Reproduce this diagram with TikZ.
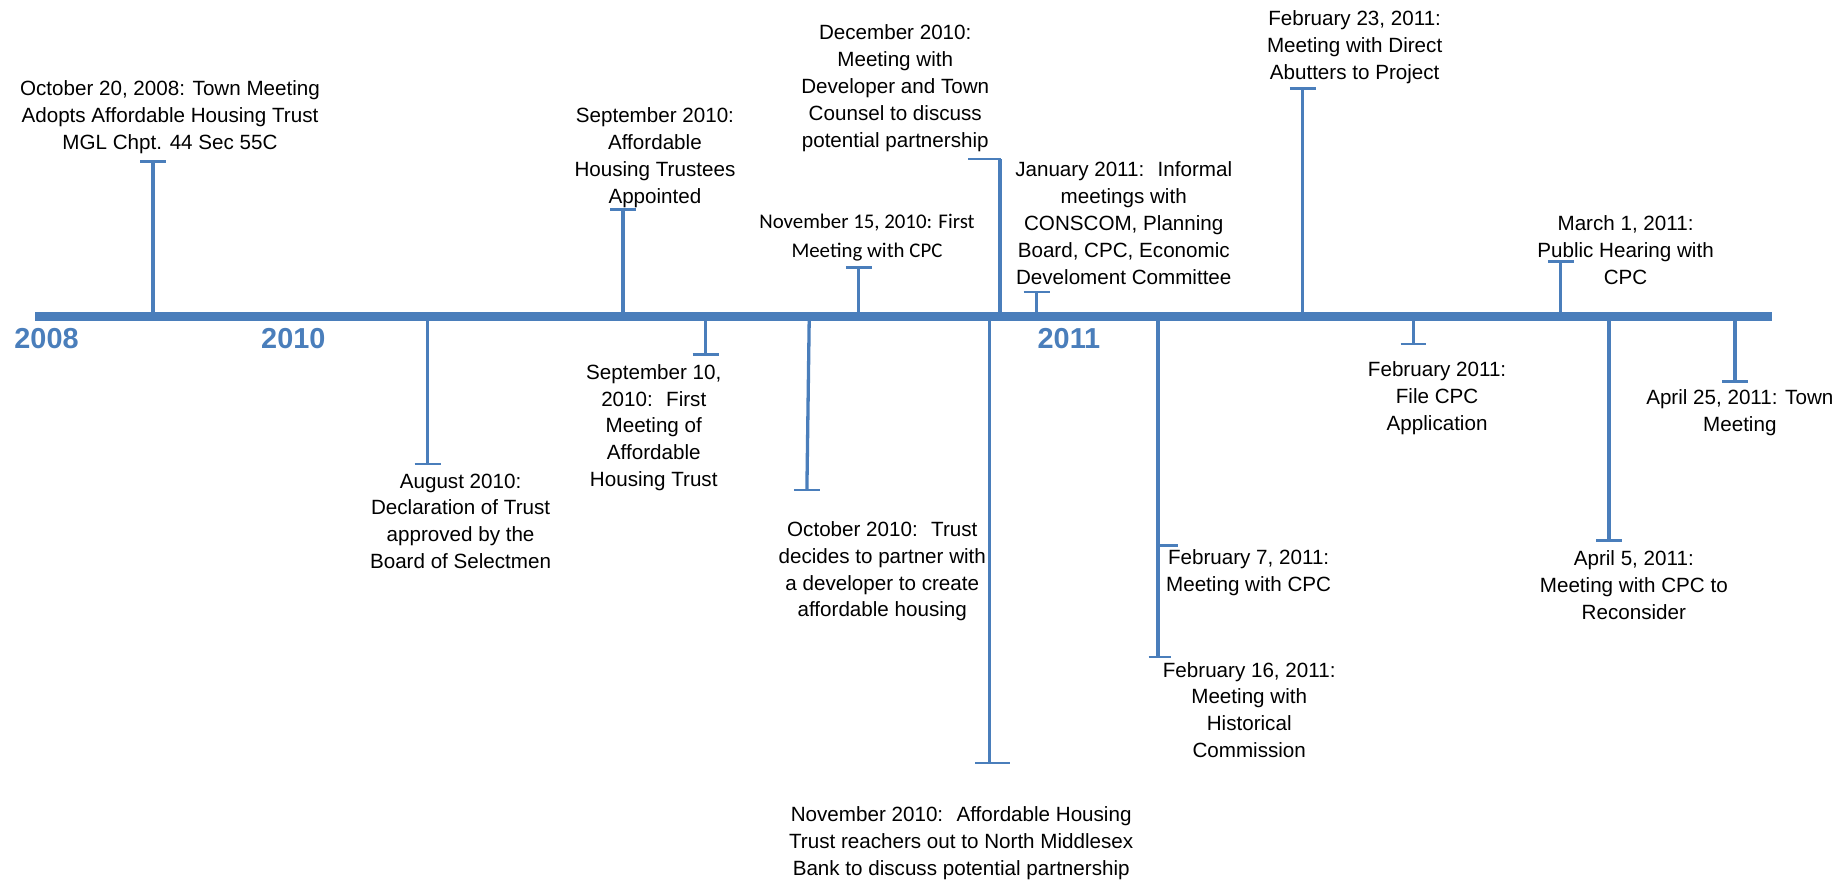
\documentclass[tikz,border=0pt]{standalone}
\usepackage{fontspec}
\newfontfamily\arialc{Liberation Sans}
\newfontfamily\carl{Carlito}
\definecolor{tlblue}{HTML}{4A7EBB}
\begin{document}
\begin{tikzpicture}[x=1pt,y=-1pt,
  lbl/.style={font=\arialc\fontsize{17.5}{22.8}\selectfont, align=center, inner sep=0pt, text=black},
  lblc/.style={font=\carl\fontsize{17.7}{24}\selectfont, align=center, inner sep=0pt, text=black},
  yr/.style={font=\arialc\bfseries\fontsize{24.5}{28}\selectfont, text=tlblue, inner sep=0pt},
  stem/.style={draw=tlblue, line width=2.8pt},
  capl/.style={draw=tlblue, line width=2pt},
  axisline/.style={draw=tlblue, line width=7.7pt}]
\useasboundingbox (0,0) rectangle (1568,749);

% axis
\coordinate (axL) at (30,269);
\coordinate (axR) at (1504,269);
\draw[axisline] (axL) -- (axR);

% years
\node[yr] (y2008) at (39.5,287) {2008};
\node[yr] (y2010) at (249,287) {2010};
\node[yr] (y2011) at (907.5,287) {2011};

% stems
\coordinate (b1) at (130,269);  \coordinate (t1) at (130,137);
\coordinate (b2) at (363,269);  \coordinate (t2) at (363,394);
\coordinate (b3) at (529,269);  \coordinate (t3) at (529,178);
\coordinate (b4) at (599,269);  \coordinate (t4) at (599,301);
\coordinate (b5) at (687,269);  \coordinate (t5) at (685,416);
\coordinate (b6) at (729,269);  \coordinate (t6) at (729,227);
\coordinate (b7) at (849,269);  \coordinate (t7) at (849,135);
\coordinate (b8) at (840,269);  \coordinate (t8) at (840,648);
\coordinate (b9) at (880,269);  \coordinate (t9) at (880,248);
\coordinate (b10) at (983,269); \coordinate (t10) at (983,558);
\coordinate (m10) at (983,463);
\coordinate (b11) at (1106,269); \coordinate (t11) at (1106,75);
\coordinate (b12) at (1200,269); \coordinate (t12) at (1200,292);
\coordinate (b13) at (1325,269); \coordinate (t13) at (1325,222);
\coordinate (b14) at (1366,269); \coordinate (t14) at (1366,459);
\coordinate (b15) at (1473,269); \coordinate (t15) at (1473,324);

\foreach \i in {1,2,3,4,5,6,7,8,9,10,11,12,13,14,15} {
  \draw[stem] (b\i) -- (t\i);
}
\foreach \i in {1,2,3,4,5,6,9,11,12,13,14,15} {
  \draw[capl] ([xshift=-11pt]t\i) -- ([xshift=11pt]t\i);
}
\draw[capl] ([xshift=-27pt]t7) -- ([xshift=1pt]t7);
\draw[capl] ([xshift=-12pt]t8) -- ([xshift=17pt]t8);
\draw[capl] ([xshift=-8pt]t10) -- ([xshift=11pt]t10);
\draw[capl] (m10) -- ([xshift=17pt]m10);

% labels
\node[lbl] (e1) at (144.3,99.6) {October 20, 2008: Town Meeting\\Adopts Affordable Housing Trust\\MGL Chpt. 44 Sec 55C};
\node[lbl] (e2) at (391,442.5) {August 2010:\\Declaration of Trust\\approved by the\\Board of Selectmen};
\node[lbl] (e3) at (556,134) {September 2010:\\Affordable\\Housing Trustees\\Appointed};
\node[lbl] (e4) at (555,363) {September 10,\\2010:~ First\\Meeting of\\Affordable\\Housing Trust};
\node[lbl] (e5) at (749,485) {October 2010:~ Trust\\decides to partner with\\a developer to create\\affordable housing};
\node[lblc] (e6) at (736,201.6) {November 15, 2010: First\\Meeting with CPC};
\node[lbl] (e7) at (760,75) {December 2010:\\Meeting with\\Developer and Town\\Counsel to discuss\\potential partnership};
\node[lbl] (e8) at (816,716) {November 2010:~ Affordable Housing\\Trust reachers out to North Middlesex\\Bank to discuss potential partnership};
\node[lbl] (e9) at (954,189.6) {January 2011:~ Informal\\meetings with\\CONSCOM, Planning\\Board, CPC, Economic\\Develoment Committee};
\node[lbl] (e10) at (1060,486) {February 7, 2011:\\Meeting with CPC};
\node[lbl] (e10b) at (1060.5,602.7) {February 16, 2011:\\Meeting with\\Historical\\Commission};
\node[lbl] (e11) at (1150,40) {February 23, 2011:\\Meeting with Direct\\Abutters to Project};
\node[lbl] (e12) at (1220,338) {February 2011:\\File CPC\\Application};
\node[lbl] (e13) at (1380,212.6) {March 1, 2011:\\Public Hearing with\\CPC};
\node[lbl] (e14) at (1387,497) {April 5, 2011:\\Meeting with CPC to\\Reconsider};
\node[lbl] (e15) at (1477,350) {April 25, 2011: Town\\Meeting};
\end{tikzpicture}
\end{document}
